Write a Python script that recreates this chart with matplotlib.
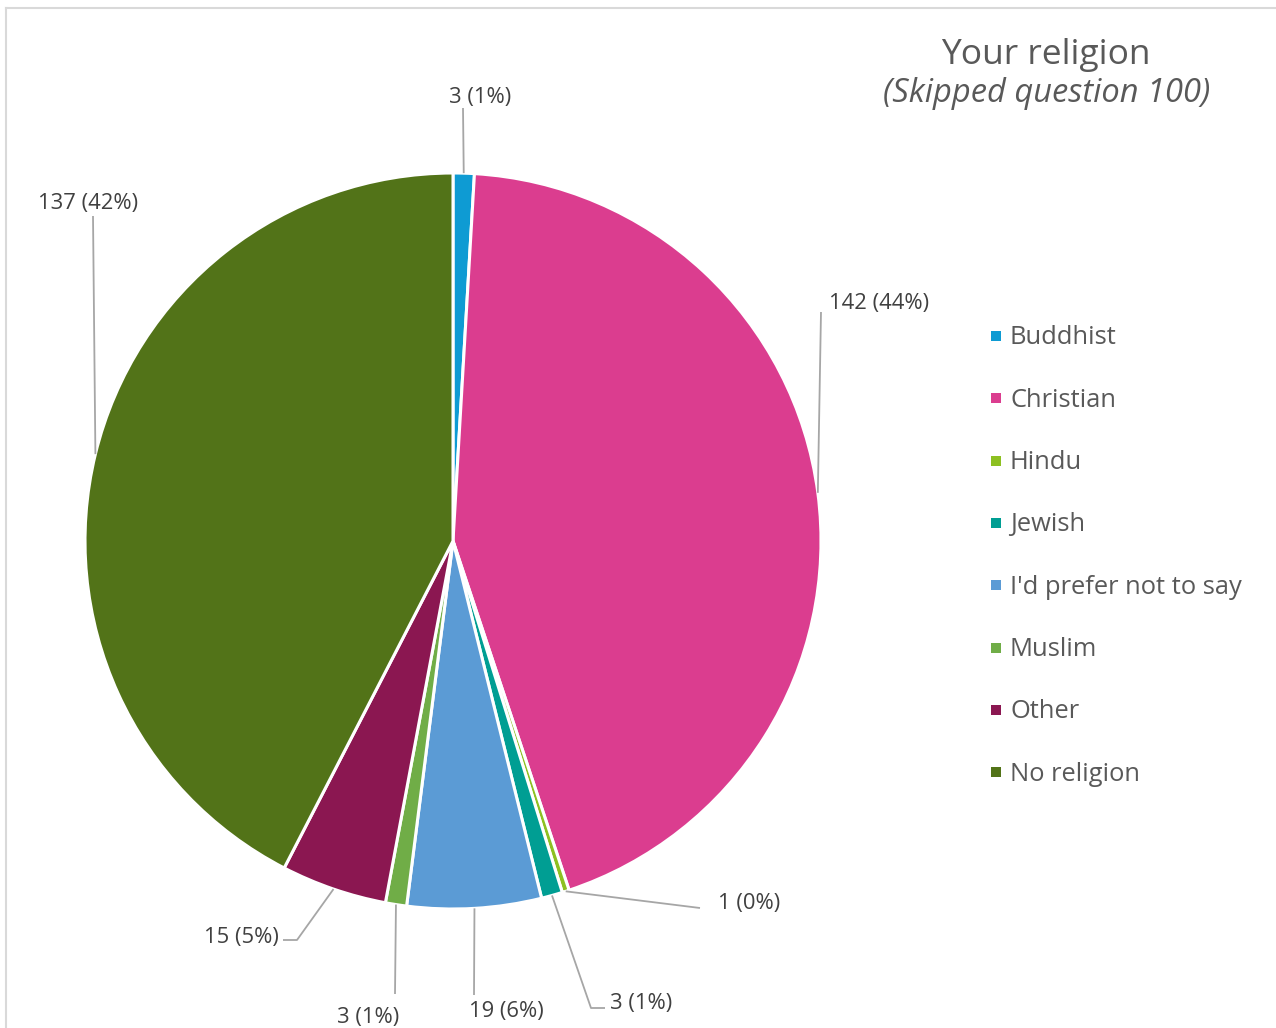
import numpy as np
import matplotlib.pyplot as plt

# survey answers
religions = ["Buddhist", "Christian", "Hindu", "Jewish", "I'd prefer not to say",
             "Muslim", "Other", "No religion"]
counts = [3, 142, 1, 3, 19, 3, 15, 137]
colors = ["#0E9BD3", "#DB3D8F", "#8DC021", "#009E93", "#5B9BD5",
          "#70AD47", "#8B1751", "#527318"]

W, H = 1276, 1028
CX, CY, R = 453, 541, 368

# leader elbows and label anchors (pixel coords, y down)
elbows = [[(463, 108)], [(821, 312)], [(700, 908)], [(591, 1008), (605, 1008)],
          [(474, 995)], [(395, 994)], [(297, 940), (283, 940)], [(93, 216)]]
label_pos = [(480, 98, "center"), (829, 304, "left"), (718, 904, "left"),
             (610, 1004, "left"), (506, 1012, "center"), (368, 1017, "center"),
             (279, 937, "right"), (88, 204, "center")]

plt.rcParams['font.family'] = ['Open Sans', 'DejaVu Sans']
txt = "#595959"
lbl = "#404040"

fig = plt.figure(figsize=(W / 100, H / 100), dpi=100)
ax = fig.add_axes([0, 0, 1, 1])


def fy(py):
    return H - py


wedges, _ = ax.pie(counts, colors=colors, startangle=90, counterclock=False,
                   center=(CX, fy(CY)), radius=R,
                   wedgeprops=dict(edgecolor="white", linewidth=2.2))
ax.set_xlim(0, W)
ax.set_ylim(0, H)
ax.set_aspect("equal")
ax.axis("off")

total = sum(counts)
for w, n, pts, (lx, ly, ha) in zip(wedges, counts, elbows, label_pos):
    mid = np.deg2rad((w.theta1 + w.theta2) / 2)
    x0 = CX + R * np.cos(mid)
    y0 = CY - R * np.sin(mid)
    xs = [x0] + [p[0] for p in pts]
    ys = [fy(y0)] + [fy(p[1]) for p in pts]
    ax.plot(xs, ys, color="#A6A6A6", lw=1.3, solid_capstyle="butt")
    pct = round(100 * n / total)
    ax.text(lx, fy(ly), f"{n} ({pct}%)", ha=ha, va="center",
            fontsize=15.8, color=lbl)

# legend
for i, (name, c) in enumerate(zip(religions, colors)):
    y = 336 + i * 62.3
    ax.scatter([996], [fy(y)], marker="s", s=50, color=c, linewidths=0)
    ax.text(1010, fy(y + 2), name, ha="left", va="center", fontsize=18.4, color=txt)

ax.text(1046, fy(55), "Your religion", ha="center", va="center",
        fontsize=25.5, color=txt)
ax.text(1047, fy(94), "(Skipped question 100)", ha="center", va="center",
        fontsize=23.5, style="italic", color=txt)

# chart frame (top and left edges visible)
ax.plot([6, W], [fy(8), fy(8)], color="#D9D9D9", lw=1.5)
ax.plot([6, 6], [fy(8), 0], color="#D9D9D9", lw=1.5)

fig.savefig("out.png", dpi=100, facecolor="white")
